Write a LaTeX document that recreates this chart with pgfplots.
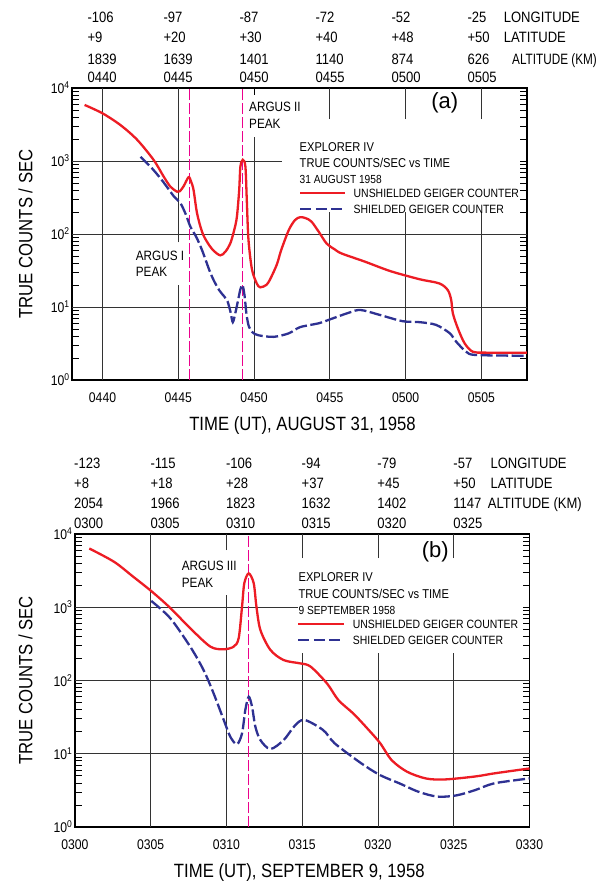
\documentclass[border=0pt]{standalone}
\usepackage{pgfplots}
\pgfplotsset{compat=1.18}
\usepackage{fontspec}
\setmainfont{Liberation Sans}[FakeStretch=0.87]
\newfontfamily\plainfont{Liberation Sans}
\definecolor{cred}{RGB}{237,28,36}
\definecolor{cblue}{RGB}{46,49,146}
\definecolor{cmag}{RGB}{236,0,140}
\newcommand\fs[1]{\fontsize{#1}{#1}\selectfont}
\newcommand\T[4][15]{\node[anchor=base west,inner sep=0pt] at (#2pt,-#3pt) {\fs{#1}#4};}

\pgfplotstableread{
x y
-1.18 5860
0 4500
1.19 3100
2.29 1950
3.38 1030
4.04 610
4.48 445
4.92 380
5.1 385
5.35 450
5.68 600
5.85 520
6.01 400
6.24 192
6.57 107
6.9 78
7.3 60
7.77 51
8.1 57
8.43 74
8.7 115
8.87 173
9.02 400
9.1 840
9.26 1040
9.43 840
9.52 300
9.63 85
9.86 33
10.18 21
10.41 18.6
10.8 20
11.04 23.5
11.5 38
11.79 60
12.29 113
12.7 155
13.04 170
13.4 165
13.79 148
14.3 105
14.79 74
15.3 62
15.79 54
17.29 42
19 31
20.93 24
22.24 21
22.79 17
23.01 12.5
23.12 8.2
23.45 5.1
23.89 3.2
24.43 2.44
25.3 2.37
28 2.37
}\redA

\pgfplotstableread{
x y
2.51 1140
3.3 780
4.0 520
4.7 330
5.14 265
5.5 185
5.8 126
6.2 90
6.57 60
7.05 32
7.33 23.4
7.7 17
8.05 13.8
8.25 12
8.45 8.5
8.6 6.2
8.78 8.5
8.95 12.5
9.1 17.5
9.24 20
9.38 14
9.5 8
9.66 5.4
9.9 4.5
10.29 4.1
11.29 3.9
12.29 4.36
13.04 5.3
14.29 6.0
15.04 6.8
16.29 8.4
17.04 9.1
18.29 7.8
19.79 6.4
20.93 6.2
22.0 5.7
22.9 4.4
23.34 3.35
24.0 2.44
24.66 2.2
28 2.15
}\blueA

\pgfplotstableread{
x y
0.95 6340
2.58 4180
3.84 2620
5.09 1630
6.29 980
7.61 517
8.94 290
9.82 267
10.48 290
10.81 380
11.03 1020
11.18 2130
11.47 2900
11.8 2130
11.98 1020
12.24 490
12.9 262
13.78 190
14.89 171
15.55 155
16.64 91
17.39 54
18.4 35
19.4 21
20.15 13.9
20.9 8.2
21.91 5.7
23.16 4.6
24.42 4.46
26.43 4.9
27.68 5.4
30 6.3
}\redB

\pgfplotstableread{
x y
5.04 1220
6.29 710
7.61 290
8.49 139
9.15 67
9.82 29
10.26 17
10.7 13.5
11.03 19
11.25 40
11.47 60
11.69 44
11.91 23.4
12.24 15.4
12.9 11.6
13.78 15.4
14.5 24
15.14 29
16.39 21
17.14 13.9
18.9 7.4
20.15 5.1
21.41 3.95
22.67 3.03
23.92 2.6
25.17 2.7
26.43 3.2
27.68 3.95
30 4.6
}\blueB

\tikzset{
 grd/.style={black!80, line width=0.8pt},
 mag/.style={cmag, line width=1pt, dash pattern=on 11pt off 3pt},
}

\begin{document}
\begin{tikzpicture}
\path[use as bounding box, fill=white] (0pt,0pt) rectangle (596pt,-883pt);

% ---------------- panel (a)
\begin{axis}[at={(72.2pt,-380pt)}, anchor=south west,
  scale only axis, width=454.6pt, height=292pt,
  ymode=log, ymin=1, ymax=10000,
  ytick={1,10,100,1000,10000},
  yticklabels={10\textsuperscript{0},10\textsuperscript{1},10\textsuperscript{2},10\textsuperscript{3},10\textsuperscript{4}},
  tick align=inside, major tick length=7pt, minor tick length=7pt,
  axis line style={line width=1.4pt},
  every tick/.style={black, line width=0.8pt},
  ticklabel style={font=\fs{14}},
  yticklabel style={xshift=1pt},
  xticklabel style={yshift=-9pt},
  xmin=-2, xmax=28, xtick={0,5,10,15,20,25},
  xticklabels={0440,0445,0450,0455,0500,0505}]
\draw[grd] (axis cs:0,1) -- (axis cs:0,10000);
\draw[grd] (axis cs:5,1) -- (axis cs:5,20) (axis cs:5,77) -- (axis cs:5,10000);
\draw[grd] (axis cs:10,1) -- (axis cs:10,2130);
\pgfplotsinvokeforeach{15,20,25}{\draw[grd] (axis cs:#1,1) -- (axis cs:#1,200) (axis cs:#1,3760) -- (axis cs:#1,10000);}
\draw[grd] (axis cs:-2,1000) -- (axis cs:11.85,1000);
\draw[grd] (axis cs:-2,100) -- (axis cs:28,100);
\draw[grd] (axis cs:-2,10) -- (axis cs:28,10);
\draw[mag] (axis cs:5.72,1) -- (axis cs:5.72,10000);
\draw[mag] (axis cs:9.24,1) -- (axis cs:9.24,10000);
\addplot[cred, line width=2.3pt, smooth, tension=0.5, no markers] table[x=x,y=y] {\redA};
\addplot[cblue, line width=2.3pt, dash pattern=on 12pt off 3.5pt, smooth, tension=0.5, no markers] table[x=x,y=y] {\blueA};
\end{axis}

% ---------------- panel (b)
\begin{axis}[at={(74.9pt,-827pt)}, anchor=south west,
  scale only axis, width=454.6pt, height=293pt,
  ymode=log, ymin=1, ymax=10000,
  ytick={1,10,100,1000,10000},
  yticklabels={10\textsuperscript{0},10\textsuperscript{1},10\textsuperscript{2},10\textsuperscript{3},10\textsuperscript{4}},
  tick align=inside, major tick length=7pt, minor tick length=7pt,
  axis line style={line width=1.4pt},
  every tick/.style={black, line width=0.8pt},
  ticklabel style={font=\fs{14}},
  yticklabel style={xshift=1pt},
  xticklabel style={yshift=-9pt},
  xmin=0, xmax=30, xtick={0,5,10,15,20,25,30},
  xticklabels={0300,0305,0310,0315,0320,0325,0330}]
\draw[grd] (axis cs:5,1) -- (axis cs:5,10000);
\draw[grd] (axis cs:10,1) -- (axis cs:10,1470) (axis cs:10,6030) -- (axis cs:10,10000);
\pgfplotsinvokeforeach{15,20,25}{\draw[grd] (axis cs:#1,1) -- (axis cs:#1,237) (axis cs:#1,4700) -- (axis cs:#1,10000);}
\draw[grd] (axis cs:0,1000) -- (axis cs:14.75,1000);
\draw[grd] (axis cs:0,100) -- (axis cs:30,100);
\draw[grd] (axis cs:0,10) -- (axis cs:30,10);
\draw[mag] (axis cs:11.48,1) -- (axis cs:11.48,10000);
\addplot[cred, line width=2.3pt, smooth, tension=0.5, no markers] table[x=x,y=y] {\redB};
\addplot[cblue, line width=2.3pt, dash pattern=on 12pt off 3.5pt, smooth, tension=0.5, no markers] table[x=x,y=y] {\blueB};
\end{axis}

% ---------------- header (a)
\T{87.4}{22.9}{-106}\T{163.4}{22.9}{-97}\T{239.4}{22.9}{-87}\T{315.4}{22.9}{-72}\T{391.4}{22.9}{-52}\T{467.4}{22.9}{-25}
\T{87.4}{42.4}{+9}\T{163.4}{42.4}{+20}\T{239.4}{42.4}{+30}\T{315.4}{42.4}{+40}\T{391.4}{42.4}{+48}\T{467.4}{42.4}{+50}
\T{87.4}{64.4}{1839}\T{163.4}{64.4}{1639}\T{239.4}{64.4}{1401}\T{315.4}{64.4}{1140}\T{391.4}{64.4}{874}\T{467.4}{64.4}{626}
\T{87.4}{82.9}{0440}\T{163.4}{82.9}{0445}\T{239.4}{82.9}{0450}\T{315.4}{82.9}{0455}\T{391.4}{82.9}{0500}\T{467.4}{82.9}{0505}
\T{503.6}{22.9}{LONGITUDE}
\T{503.6}{42.4}{LATITUDE}
\T{512}{64.4}{\scalebox{0.9}[1]{ALTITUDE (KM)}}

% ---------------- header (b)
\T{74}{468.7}{-123}\T{150.3}{468.7}{-115}\T{225.9}{468.7}{-106}\T{301.5}{468.7}{-94}\T{377.2}{468.7}{-79}\T{453.2}{468.7}{-57}
\T{74}{488.1}{+8}\T{150.3}{488.1}{+18}\T{225.9}{488.1}{+28}\T{301.5}{488.1}{+37}\T{377.2}{488.1}{+45}\T{453.2}{488.1}{+50}
\T{74}{508.1}{2054}\T{150.3}{508.1}{1966}\T{225.9}{508.1}{1823}\T{301.5}{508.1}{1632}\T{377.2}{508.1}{1402}\T{453.2}{508.1}{1147}
\T{74}{528.7}{0300}\T{150.3}{528.7}{0305}\T{225.9}{528.7}{0310}\T{301.5}{528.7}{0315}\T{377.2}{528.7}{0320}\T{453.2}{528.7}{0325}
\T{490.3}{468.7}{LONGITUDE}
\T{490.3}{488.1}{LATITUDE}
\T{487.6}{508.1}{ALTITUDE (KM)}

% ---------------- axis titles
\node[rotate=90, anchor=center, inner sep=0pt] at (25.6pt,-234pt) {\fs{19.2}TRUE COUNTS / SEC};
\node[rotate=90, anchor=center, inner sep=0pt] at (25.6pt,-680.5pt) {\fs{19.2}TRUE COUNTS / SEC};
\node[anchor=base, inner sep=0pt] at (302.5pt,-430pt) {\fs{19.2}TIME (UT), AUGUST 31, 1958};
\node[anchor=base, inner sep=0pt] at (299.3pt,-877pt) {\fs{19.2}TIME (UT), SEPTEMBER 9, 1958};

% ---------------- panel labels
\node[anchor=center, inner sep=0pt] at (444.7pt,-103pt) {\plainfont\fs{22}(a)};
\node[anchor=center, inner sep=0pt] at (435.2pt,-551.7pt) {\plainfont\fs{22}(b)};

% ---------------- annotations
\T[13.5]{249}{111.7}{ARGUS II}\T[13.5]{249}{128.3}{PEAK}
\T[13.5]{135.7}{260}{ARGUS I}\T[13.5]{135.7}{276.7}{PEAK}
\T[13.5]{181.7}{570.7}{ARGUS III}\T[13.5]{181.7}{587.3}{PEAK}

% ---------------- legend (a)
\T[12.8]{299.5}{151.3}{EXPLORER IV}
\T[12.8]{299.5}{167.9}{TRUE COUNTS/SEC vs TIME}
\T[11.7]{299.5}{183.2}{31 AUGUST 1958}
\draw[cred, line width=2.3pt] (300.3pt,-193.3pt) -- (345.1pt,-193.3pt);
\draw[cblue, line width=2.3pt, dash pattern=on 11pt off 4.5pt] (300.3pt,-209pt) -- (345.1pt,-209pt);
\T[12]{353.5}{197.6}{UNSHIELDED GEIGER COUNTER}
\T[12]{353.5}{213.3}{SHIELDED GEIGER COUNTER}

% ---------------- legend (b)
\T[12.8]{298.4}{581.3}{EXPLORER IV}
\T[12.8]{298.4}{598.6}{TRUE COUNTS/SEC vs TIME}
\T[11.7]{298.4}{614.2}{9 SEPTEMBER 1958}
\draw[cred, line width=2.3pt] (298.4pt,-624.3pt) -- (344pt,-624.3pt);
\draw[cblue, line width=2.3pt, dash pattern=on 11pt off 4.5pt] (298.4pt,-640pt) -- (344pt,-640pt);
\T[12]{352.7}{628.6}{UNSHIELDED GEIGER COUNTER}
\T[12]{352.7}{644.3}{SHIELDED GEIGER COUNTER}
\end{tikzpicture}
\end{document}
